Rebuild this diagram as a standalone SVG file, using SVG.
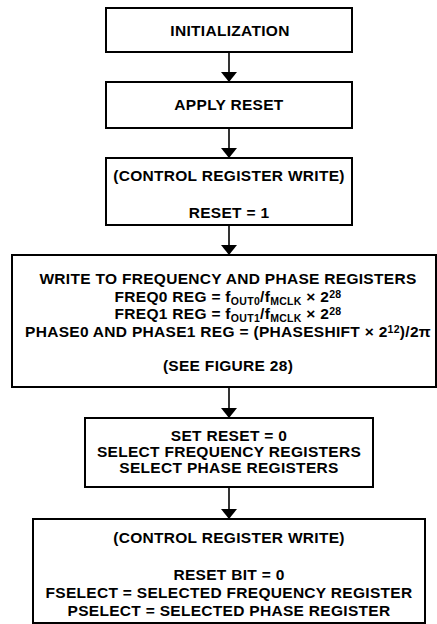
<svg xmlns="http://www.w3.org/2000/svg" width="437" height="624" viewBox="0 0 437 624">
<defs>
<style>
.box{fill:#fff;stroke:#000;stroke-width:2}
.t{font-family:"Liberation Sans",Arial,Helvetica,sans-serif;font-weight:bold;font-size:15.5px;letter-spacing:0.3px;text-anchor:middle;fill:#000}
.s{font-size:10.5px}
.c{stroke:#000;stroke-width:1.6;fill:none}
</style>
<marker id="ah" viewBox="0 0 10 16" refX="10" refY="8" markerWidth="10" markerHeight="16" markerUnits="userSpaceOnUse" orient="auto">
<path d="M0,0 L10,8 L0,16 Z" fill="#000"/>
</marker>
</defs>
<rect width="437" height="624" fill="#fff"/>
<g id="connectors">
<line class="c" x1="229" y1="52" x2="229" y2="82" marker-end="url(#ah)"/>
<line class="c" x1="229" y1="128" x2="229" y2="158" marker-end="url(#ah)"/>
<line class="c" x1="229" y1="225" x2="229" y2="255" marker-end="url(#ah)"/>
<line class="c" x1="229" y1="387" x2="229" y2="418" marker-end="url(#ah)"/>
<line class="c" x1="229" y1="487" x2="229" y2="519" marker-end="url(#ah)"/>
</g>
<g id="n1">
<rect class="box" x="106" y="8" width="246" height="44"/>
<text class="t" x="230" y="36">INITIALIZATION</text>
</g>
<g id="n2">
<rect class="box" x="106" y="82" width="246" height="46"/>
<text class="t" x="229" y="110">APPLY RESET</text>
</g>
<g id="n3">
<rect class="box" x="106" y="158" width="246" height="67"/>
<text class="t" x="229" y="181">(CONTROL REGISTER WRITE)</text>
<text class="t" x="229" y="218">RESET = 1</text>
</g>
<g id="n4">
<rect class="box" x="12" y="255" width="424" height="132"/>
<text class="t" x="228" y="284">WRITE TO FREQUENCY AND PHASE REGISTERS</text>
<text class="t" x="228" y="302">FREQ0 REG = f<tspan class="s" dy="3">OUT0</tspan><tspan dy="-3">/f</tspan><tspan class="s" dy="3">MCLK</tspan><tspan dy="-3"> × 2</tspan><tspan class="s" dy="-4">28</tspan></text>
<text class="t" x="228" y="319">FREQ1 REG = f<tspan class="s" dy="3">OUT1</tspan><tspan dy="-3">/f</tspan><tspan class="s" dy="3">MCLK</tspan><tspan dy="-3"> × 2</tspan><tspan class="s" dy="-4">28</tspan></text>
<text class="t" x="228" y="337">PHASE0 AND PHASE1 REG = (PHASESHIFT × 2<tspan class="s" dy="-4">12</tspan><tspan dy="4">)/2π</tspan></text>
<text class="t" x="228" y="371">(SEE FIGURE 28)</text>
</g>
<g id="n5">
<rect class="box" x="85" y="418" width="288" height="69"/>
<text class="t" x="229" y="441">SET RESET = 0</text>
<text class="t" x="229" y="457">SELECT FREQUENCY REGISTERS</text>
<text class="t" x="229" y="473">SELECT PHASE REGISTERS</text>
</g>
<g id="n6">
<rect class="box" x="33" y="519" width="392" height="104"/>
<text class="t" x="229" y="543">(CONTROL REGISTER WRITE)</text>
<text class="t" x="229" y="580">RESET BIT = 0</text>
<text class="t" x="229" y="598">FSELECT = SELECTED FREQUENCY REGISTER</text>
<text class="t" x="229" y="616">PSELECT = SELECTED PHASE REGISTER</text>
</g>
</svg>
